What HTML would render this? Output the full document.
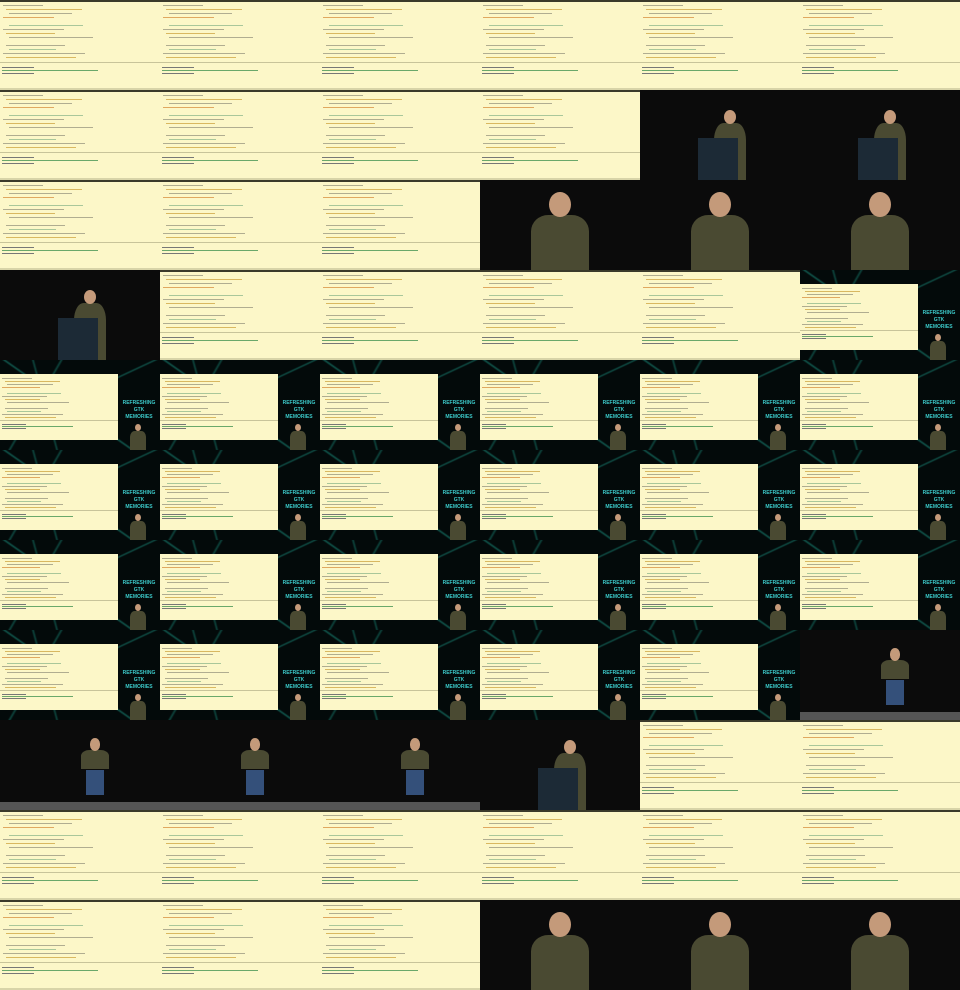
<!DOCTYPE html>
<html><head><meta charset="utf-8">
<style>
html,body{margin:0;padding:0;background:#000;width:960px;height:990px;overflow:hidden;font-family:"Liberation Sans",sans-serif}
#grid{position:relative;width:960px;height:990px;overflow:hidden}
.cell{position:absolute;width:160px;height:90px;overflow:hidden}
.Y{background:#fcf7c8}
.hdr{position:absolute;left:0;top:0;width:160px;height:2px;background:#3a3a2a}
.ln{position:absolute;height:1px}
.sep{position:absolute;left:0;width:100%;height:1px;background:#c8c49a}
.bar{position:absolute;left:0;bottom:0;width:160px;height:2px;background:#d8d4a8}
.dark{background:#0b0b0b}
.G{background:#030a0a}
.G .net{position:absolute;inset:0;background:
 linear-gradient(35deg,transparent 45%,rgba(30,170,150,.45) 46%,transparent 47%),
 linear-gradient(-25deg,transparent 55%,rgba(30,170,150,.4) 56%,transparent 57%),
 linear-gradient(75deg,transparent 30%,rgba(30,170,150,.35) 31%,transparent 32%),
 linear-gradient(-60deg,transparent 70%,rgba(30,170,150,.35) 71%,transparent 72%)}
.G .panel{position:absolute;left:0;top:14px;width:118px;height:66px;background:#fcf7c8;overflow:hidden}
.G .logo{position:absolute;left:122px;top:40px;width:34px;color:#3cc8c8;font-size:5px;font-weight:bold;line-height:7px;text-align:center;overflow:hidden}
.head{position:absolute;border-radius:50%;background:#c49a7a}
.shirt{position:absolute;background:#4a4a32;border-radius:30% 30% 0 0}
.legs{position:absolute;background:#34507a}
.podium{position:absolute;background:#1c2a36}
.floor{position:absolute;left:0;bottom:0;width:160px;height:8px;background:#555}
</style></head>
<body>
<div id="grid"></div>
<script>
const rows = [
 "YYYYYY",
 "YYYYPP",
 "YYYSSS",
 "PYYYYG",
 "GGGGGG",
 "GGGGGG",
 "GGGGGG",
 "GGGGGT",
 "TTTPYY",
 "YYYYYY",
 "YYYSSS"
];
const lineColors = ["#b0ad90","#d9b860","#b0ad90","#e0a860","#b0ad90","#a9c79a"];
const grid = document.getElementById('grid');
function codeLines(el, w, h, sc){
  const n=Math.floor(h*0.7/(4*sc));
  for(let i=0;i<n;i++){
    if((i*7)%5===3) continue;
    const l=document.createElement('div');
    l.className='ln';
    l.style.left=(3+(i%3)*3)*sc+'px';
    l.style.top=(5+i*4)*sc+'px';
    l.style.width=(w*0.25+((i*37)%50)/100*w*0.6)+'px';
    l.style.background=lineColors[i%lineColors.length];
    el.appendChild(l);
  }
  const s=document.createElement('div');s.className='sep';s.style.top=Math.round(h*0.69)+'px';el.appendChild(s);
  for(let j=0;j<3;j++){
    const l=document.createElement('div');l.className='ln';
    l.style.left='2px';l.style.top=Math.round(h*0.71+3+j*3*sc)+'px';
    l.style.width=(j===1?w*0.6:w*0.2)+'px';
    l.style.background=j===1?'#6aa86a':'#777';
    el.appendChild(l);
  }
}
function person(el, cx, top, scale, legs){
  const h=document.createElement('div');h.className='head';
  h.style.left=(cx-6*scale)+'px';h.style.top=top+'px';h.style.width=12*scale+'px';h.style.height=14*scale+'px';
  const s=document.createElement('div');s.className='shirt';
  const st=top+13*scale;
  s.style.left=(cx-16*scale)+'px';s.style.top=st+'px';s.style.width=32*scale+'px';
  s.style.height=(legs?22*scale:Math.max(0,90-st))+'px';
  el.appendChild(s);el.appendChild(h);
  if(legs){const g=document.createElement('div');g.className='legs';
    g.style.left=(cx-10*scale)+'px';g.style.top=(top+35*scale)+'px';g.style.width=20*scale+'px';g.style.height=28*scale+'px';el.appendChild(g);}
}
rows.forEach((r,ri)=>{
  [...r].forEach((t,ci)=>{
    const c=document.createElement('div');
    
    
    c.style.left=ci*160+'px';c.style.top=ri*90+'px';
    if(t==='Y'){
      c.className='cell Y';
      c.innerHTML='<div class="hdr"></div><div class="bar"></div>';
      codeLines(c,160,90,1);
    } else if(t==='G'){
      c.className='cell G';
      c.innerHTML='<div class="net"></div><div class="panel"></div><div class="logo">REFRESHING<br>GTK<br>MEMORIES</div>';
      codeLines(c.querySelector('.panel'),118,66,0.75);
      person(c,138,64,0.5,false);
    } else if(t==='S'){
      c.className='cell dark';
      person(c,80,12,1.8,false);
    } else if(t==='P'){
      c.className='cell dark';
      person(c,90,20,1.0,false);
      const p=document.createElement('div');p.className='podium';
      p.style.left='58px';p.style.top='48px';p.style.width='40px';p.style.height='42px';c.appendChild(p);
    } else if(t==='T'){
      c.className='cell dark';
      c.innerHTML='<div class="floor"></div>';
      person(c,95,18,0.9,true);
    }
    grid.appendChild(c);
  });
});
</script>
</body></html>
